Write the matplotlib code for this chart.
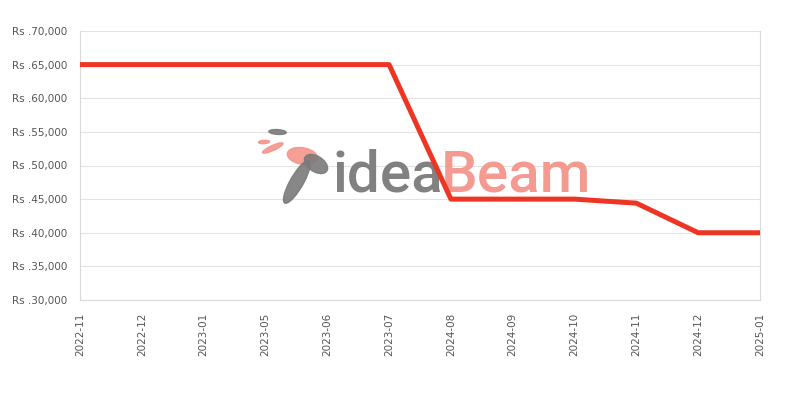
import matplotlib.pyplot as plt
from matplotlib.patches import Ellipse
import numpy as np

months = ["2022-11", "2022-12", "2023-01", "2023-05", "2023-06", "2023-07",
          "2024-08", "2024-09", "2024-10", "2024-11", "2024-12", "2025-01"]
prices = [65000, 65000, 65000, 65000, 65000, 65000,
          45000, 45000, 45000, 44400, 40000, 40000]
yticks = [30000, 35000, 40000, 45000, 50000, 55000, 60000, 65000, 70000]


def rs(v, pos=None):
    return "Rs .{:,}".format(int(v))


fig = plt.figure(figsize=(8, 4), dpi=100)
ax = fig.add_axes([0.1, 0.25, 0.85, 0.6725])

x = np.arange(len(months))
ax.plot(x, prices, color="#EE3524", linewidth=3.6, zorder=3)

ax.set_xlim(0, len(months) - 1)
ax.set_ylim(30000, 70000)
ax.set_yticks(yticks)
ax.yaxis.set_major_formatter(plt.FuncFormatter(rs))
ax.set_xticks(x)
ax.set_xticklabels(months, rotation=90)
ax.tick_params(axis="both", length=0, labelsize=7.5, labelcolor="#555555")
ax.tick_params(axis="x", pad=9)
ax.tick_params(axis="y", pad=9)

ax.grid(axis="y", color="#e3e3e3", linewidth=0.8)
ax.set_axisbelow(True)
for side in ["left", "right", "bottom"]:
    ax.spines[side].set_color("#d9d9d9")
ax.spines["top"].set_visible(False)

# watermark (behind the line): rough bird + text
tf = fig.transFigure
bird = [((0.378, 0.61), 0.035, 0.045, 30, "#f4958a"),
        ((0.347, 0.670), 0.022, 0.012, -10, "#7a7a7a"),
        ((0.33, 0.645), 0.014, 0.008, 10, "#f4958a"),
        ((0.341, 0.63), 0.01, 0.035, -45, "#f4958a"),
        ((0.371, 0.545), 0.018, 0.11, -15, "#7a7a7a"),
        ((0.395, 0.59), 0.025, 0.05, 20, "#7a7a7a")]
for (c, w, h, ang, col) in bird:
    ax.add_patch(Ellipse(c, w, h, angle=ang, transform=tf, color=col,
                         alpha=0.9, zorder=1, clip_on=False))

ax.text(0.416, 0.52, "idea", fontsize=42, color="#7a7a7a", alpha=0.95,
        ha="left", va="baseline", fontfamily="Roboto", fontweight="medium",
        transform=tf, zorder=1)
ax.text(0.551, 0.52, "Beam", fontsize=42, color="#f4958a", alpha=0.95,
        ha="left", va="baseline", fontfamily="Roboto", fontweight="medium",
        transform=tf, zorder=1)

fig.savefig("out.png", dpi=100)
